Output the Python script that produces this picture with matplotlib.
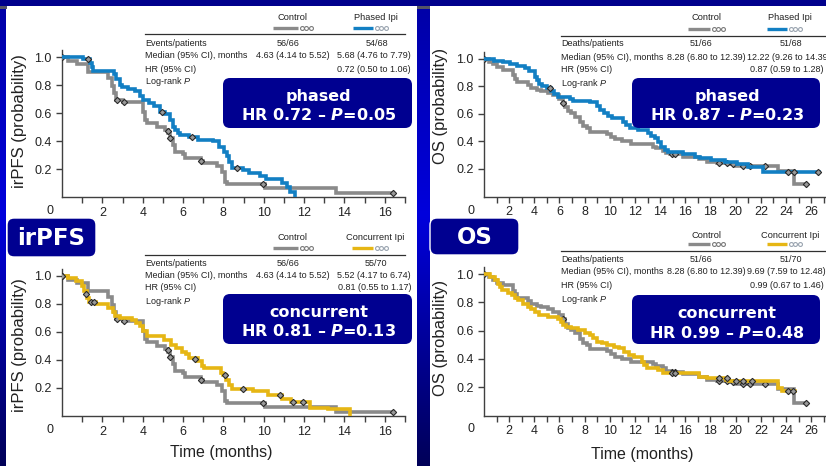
import numpy as np
import matplotlib
matplotlib.use("Agg")
import matplotlib.pyplot as plt
from matplotlib.patches import Rectangle, FancyBboxPatch
from matplotlib.lines import Line2D
from matplotlib.colors import to_rgb
from matplotlib import font_manager as fm
import matplotlib.transforms as mtrans

# ---------------- data ----------------
# irPFS, control (step times in months, survival after each step)
ctrl_pfs_t = [0, 0.3, 0.72, 1.3, 2.3, 2.5, 2.6, 2.7, 3.0, 4.0, 4.1, 4.2, 4.7, 5.1, 5.25, 5.35,
              5.5, 5.6, 6.0, 6.1, 6.9, 7.0, 7.7, 7.95, 8.1, 8.2, 10.05, 13.6]
ctrl_pfs_s = [1.0, 0.97, 0.95, 0.89, 0.85, 0.79, 0.74, 0.69, 0.68, 0.61, 0.55, 0.53, 0.50, 0.48, 0.46, 0.42,
              0.37, 0.32, 0.31, 0.28, 0.26, 0.24, 0.22, 0.18, 0.11, 0.095, 0.066, 0.026]
ctrl_pfs_end = 16.4
ctrl_pfs_cens_t = [0, 2.72, 3.05, 5.25, 5.35, 6.9, 9.98, 16.4]
ctrl_pfs_cens_s = [1.0, 0.69, 0.68, 0.47, 0.42, 0.26, 0.095, 0.026]

# irPFS, phased ipilimumab
phas_pfs_t = [0, 1.05, 1.4, 1.5, 1.55, 2.6, 2.7, 2.85, 2.95, 3.25, 3.6, 3.85, 4.0, 4.3, 4.55, 4.85,
              5.1, 5.35, 5.5, 5.6, 5.75, 5.85, 6.3, 6.75, 7.5, 7.8, 8.05, 8.2, 8.3, 8.45, 8.95,
              9.25, 9.8, 10.1, 10.9, 11.15, 11.3, 11.55]
phas_pfs_s = [1.0, 0.985, 0.957, 0.93, 0.90, 0.88, 0.84, 0.80, 0.785, 0.77, 0.755, 0.72, 0.69, 0.67, 0.65, 0.61,
              0.59, 0.55, 0.50, 0.48, 0.455, 0.44, 0.43, 0.41, 0.40, 0.36, 0.32, 0.29, 0.25, 0.21, 0.19,
              0.17, 0.15, 0.13, 0.10, 0.07, 0.035, 0.0]
phas_pfs_end = 11.55
phas_pfs_cens_t = [1.3, 4.95, 6.45, 8.65]
phas_pfs_cens_s = [0.985, 0.61, 0.43, 0.21]

# irPFS, concurrent ipilimumab
conc_pfs_t = [0, 0.3, 0.7, 0.97, 1.1, 1.25, 1.35, 1.7, 2.3, 2.55, 2.65, 2.85, 3.45, 3.65, 3.85, 4.0,
              4.2, 5.05, 5.4, 5.65, 5.95, 6.15, 6.3, 6.75, 6.95, 7.05, 7.9, 8.0, 8.15, 8.3, 8.45,
              9.45, 10.2, 10.9, 11.35, 12.3, 13.2, 14.25]
conc_pfs_s = [1.0, 0.983, 0.964, 0.93, 0.89, 0.846, 0.816, 0.80, 0.77, 0.74, 0.715, 0.70, 0.685, 0.665, 0.64, 0.605,
              0.57, 0.54, 0.51, 0.486, 0.46, 0.44, 0.415, 0.39, 0.36, 0.34, 0.307, 0.29, 0.26, 0.22, 0.195,
              0.176, 0.15, 0.123, 0.10, 0.056, 0.05, 0.0]
conc_pfs_end = 14.25
conc_pfs_cens_t = [0, 1.2, 1.45, 1.6, 6.6, 8.1, 8.95, 10.8, 11.45, 11.95]
conc_pfs_cens_s = [1.0, 0.875, 0.816, 0.816, 0.41, 0.29, 0.195, 0.15, 0.10, 0.10]

# OS, control
ctrl_os_t = [0, 0.4, 0.7, 1.0, 1.5, 2.3, 2.45, 2.6, 3.5, 3.75, 4.2, 4.55, 5.05, 5.5, 6.0, 6.3, 6.45,
             6.7, 6.95, 7.2, 7.6, 7.85, 8.15, 8.4, 9.8, 10.1, 10.4, 11.0, 11.7, 13.45, 13.7, 14.2,
             14.5, 14.8, 15.85, 17.05, 17.7, 18.55, 19.55, 20.0, 23.4, 24.6]
ctrl_os_s = [1.0, 0.978, 0.96, 0.94, 0.92, 0.88, 0.857, 0.833, 0.81, 0.79, 0.777, 0.768, 0.75, 0.735, 0.71, 0.68, 0.65,
             0.62, 0.605, 0.58, 0.54, 0.51, 0.495, 0.47, 0.453, 0.435, 0.415, 0.40, 0.38, 0.362, 0.35, 0.333,
             0.318, 0.306, 0.29, 0.272, 0.253, 0.246, 0.234, 0.224, 0.185, 0.09]
ctrl_os_end = 25.6
ctrl_os_cens_t = [0, 6.3, 14.95, 15.2, 18.7, 19.3, 19.75, 20.6, 21.15, 22.35, 25.6]
ctrl_os_cens_s = [1.0, 0.68, 0.306, 0.306, 0.246, 0.246, 0.234, 0.224, 0.224, 0.224, 0.09]

# OS, phased ipilimumab
phas_os_t = [0, 0.8, 1.5, 2.05, 2.6, 3.25, 3.6, 4.05, 4.2, 4.4, 4.6, 5.0, 5.35, 5.6, 5.9, 6.8, 7.05,
             8.4, 8.95, 9.2, 9.5, 9.85, 10.15, 11.05, 11.3, 11.6, 12.25, 13.05, 13.3, 13.6, 13.85,
             14.1, 14.4, 14.65, 15.85, 16.75, 17.15, 18.05, 19.15, 20.1, 21.0, 22.2]
phas_os_s = [1.0, 0.985, 0.975, 0.96, 0.95, 0.935, 0.913, 0.87, 0.845, 0.816, 0.80, 0.785, 0.768, 0.743, 0.725, 0.712, 0.695,
             0.685, 0.657, 0.628, 0.604, 0.584, 0.567, 0.543, 0.519, 0.495, 0.483, 0.458, 0.439, 0.422, 0.397,
             0.36, 0.34, 0.325, 0.31, 0.29, 0.277, 0.265, 0.248, 0.234, 0.217, 0.18]
phas_os_end = 26.6
phas_os_cens_t = [5.25, 24.15, 24.6, 26.55]
phas_os_cens_s = [0.785, 0.18, 0.18, 0.18]

# OS, concurrent ipilimumab
conc_os_t = [0, 0.45, 0.85, 1.1, 1.3, 1.4, 1.9, 2.2, 2.45, 2.7, 3.1, 3.5, 3.75, 4.05, 4.4, 5.05, 5.85,
             6.15, 6.3, 6.55, 6.95, 7.5, 8.0, 8.4, 8.7, 8.95, 9.35, 9.75, 10.3, 10.7, 11.1, 11.5,
             11.9, 12.55, 12.7, 12.95, 13.85, 14.25, 17.05, 17.7, 19.2, 19.45, 23.4, 23.65]
conc_os_s = [1.0, 0.98, 0.96, 0.93, 0.91, 0.887, 0.868, 0.85, 0.828, 0.816, 0.79, 0.77, 0.75, 0.734, 0.71, 0.694, 0.68,
             0.663, 0.64, 0.628, 0.616, 0.605, 0.586, 0.569, 0.546, 0.522, 0.51, 0.50, 0.487, 0.475, 0.452, 0.428,
             0.416, 0.381, 0.358, 0.334, 0.322, 0.299, 0.275, 0.264, 0.252, 0.245, 0.193, 0.17]
conc_os_end = 24.7
conc_os_cens_t = [14.95, 15.2, 18.7, 19.3, 20.0, 20.6, 21.3, 24.15, 24.55]
conc_os_cens_s = [0.299, 0.299, 0.264, 0.264, 0.245, 0.245, 0.245, 0.17, 0.17]

# table texts
pfs_rows = ["Events/patients", "Median (95% CI), months", "HR (95% CI)", "Log-rank "]
os_rows = ["Deaths/patients", "Median (95% CI), months", "HR (95% CI)", "Log-rank "]
ctrl_pfs_vals = ["56/66", "4.63 (4.14 to 5.52)"]
phas_pfs_vals = ["54/68", "5.68 (4.76 to 7.79)", "0.72 (0.50 to 1.06)"]
conc_pfs_vals = ["55/70", "5.52 (4.17 to 6.74)", "0.81 (0.55 to 1.17)"]
ctrl_os_vals = ["51/66", "8.28 (6.80 to 12.39)"]
phas_os_vals = ["51/68", "12.22 (9.26 to 14.39)", "0.87 (0.59 to 1.28)"]
conc_os_vals = ["51/70", "9.69 (7.59 to 12.48)", "0.99 (0.67 to 1.46)"]

box_titles = ["phased", "phased", "concurrent", "concurrent"]
box_stats = [("0.72", "0.05"), ("0.87", "0.23"), ("0.81", "0.13"), ("0.99", "0.48")]

# ---------------- style ----------------
_names = {f.name for f in fm.fontManager.ttflist}
if 'Liberation Sans Narrow' in _names:
    NARROW = ['Liberation Sans Narrow', 'DejaVu Sans']
    FS_ROW, FS_HDR = 7.8, 8.0
    IT_FONT = 'Liberation Sans Narrow:italic'
else:
    NARROW = ['Liberation Sans', 'DejaVu Sans']
    FS_ROW, FS_HDR = 6.5, 6.7
    IT_FONT = 'Liberation Sans:italic'

plt.rcParams['font.family'] = ['Liberation Sans', 'DejaVu Sans']
plt.rcParams['mathtext.fontset'] = 'custom'
plt.rcParams['mathtext.bfit'] = 'DejaVu Sans:italic:bold'
plt.rcParams['mathtext.it'] = IT_FONT
plt.rcParams['mathtext.rm'] = 'DejaVu Sans'

W, H, DPI = 826, 466, 100
NAVY = '#00008c'
BOXC = '#000090'
GRAY = '#8a8a8a'
BLUE = '#127fc3'
YELL = '#e6b614'
INK = '#222222'

fig = plt.figure(figsize=(W / DPI, H / DPI), dpi=DPI, facecolor=NAVY)


def rect_px(x0, y0, x1, y1):
    return [x0 / W, 1 - y1 / H, (x1 - x0) / W, (y1 - y0) / H]


# background layer in pixel coordinates
bg = fig.add_axes([0, 0, 1, 1], zorder=0)
bg.set_axis_off()
bg.add_patch(Rectangle((6, 6), 411, H - 6, facecolor='white', edgecolor='none'))
bg.add_patch(Rectangle((430, 6), W - 430, H - 6, facecolor='white', edgecolor='none'))
bg.add_patch(Rectangle((0, 6), 7, 3, facecolor='#555566', edgecolor='none'))
bg.add_patch(Rectangle((417, 6), 13, 3, facecolor='#555566', edgecolor='none'))


def grad_img(n=300):
    stops = [(0.0, '#0000a8'), (0.45, '#0000dc'), (1.0, '#000058')]
    pos = np.linspace(0, 1, n)
    cols = np.zeros((n, 1, 3))
    for c in range(3):
        cols[:, 0, c] = np.interp(pos, [s[0] for s in stops], [to_rgb(s[1])[c] for s in stops])
    return cols


img = grad_img()
bg.imshow(img, extent=[0, 6, H, 9], aspect='auto', interpolation='bilinear')
bg.imshow(img, extent=[417, 430, H, 9], aspect='auto', interpolation='bilinear')
bg.set_xlim(0, W)
bg.set_ylim(H, 0)


def km(ax, t, s, end, color, ct, cs, z):
    tt = list(t) + [end]
    ss = list(s) + [s[-1]]
    ax.step(tt, ss, where='post', color=color, lw=2.6, solid_joinstyle='miter', zorder=z)
    ax.plot(ct, cs, linestyle='none', marker='D', ms=3.2, mfc='#9a9a9a', mec='#2a2a2a', mew=0.8, zorder=z + 1)


def setup(px, xmax, nt):
    ax = fig.add_axes(rect_px(*px), facecolor='none', zorder=5)
    ax.set_xlim(0, xmax)
    ax.set_ylim(0, 1.05)
    for sp in ['top', 'right']:
        ax.spines[sp].set_visible(False)
    for sp in ['left', 'bottom']:
        ax.spines[sp].set_color('#404040')
        ax.spines[sp].set_linewidth(1.0)
    ticks = np.arange(1, nt + 1)
    ax.set_xticks(ticks)
    ax.set_xticklabels([str(i) if i % 2 == 0 else '' for i in ticks])
    ax.set_yticks([0.2, 0.4, 0.6, 0.8, 1.0])
    ax.set_yticklabels(['0.2', '0.4', '0.6', '0.8', '1.0'])
    ax.tick_params(axis='both', direction='out', length=4, width=1, color='#404040',
                   labelsize=9, labelcolor=INK)
    ax.tick_params(axis='x', pad=3)
    ax.tick_params(axis='y', pad=3.5)
    tr = mtrans.offset_copy(ax.transData, fig=fig, x=-12.5, y=-14, units='dots')
    ax.text(0, 0, '0', transform=tr, ha='center', va='center', fontsize=9, color=INK)
    return ax


ax_tl = setup((62, 50, 405, 197), 17.0, 17)
ax_tr = setup((484, 52, 825, 196.5), 27.1, 27)
ax_bl = setup((62, 269, 405, 416), 17.0, 17)
ax_br = setup((484, 267, 825, 415.5), 27.1, 27)

km(ax_tl, ctrl_pfs_t, ctrl_pfs_s, ctrl_pfs_end, GRAY, ctrl_pfs_cens_t, ctrl_pfs_cens_s, 3)
km(ax_tl, phas_pfs_t, phas_pfs_s, phas_pfs_end, BLUE, phas_pfs_cens_t, phas_pfs_cens_s, 5)
km(ax_bl, ctrl_pfs_t, ctrl_pfs_s, ctrl_pfs_end, GRAY, ctrl_pfs_cens_t, ctrl_pfs_cens_s, 3)
km(ax_bl, conc_pfs_t, conc_pfs_s, conc_pfs_end, YELL, conc_pfs_cens_t, conc_pfs_cens_s, 5)
km(ax_tr, ctrl_os_t, ctrl_os_s, ctrl_os_end, GRAY, ctrl_os_cens_t, ctrl_os_cens_s, 3)
km(ax_tr, phas_os_t, phas_os_s, phas_os_end, BLUE, phas_os_cens_t, phas_os_cens_s, 5)
km(ax_br, ctrl_os_t, ctrl_os_s, ctrl_os_end, GRAY, ctrl_os_cens_t, ctrl_os_cens_s, 3)
km(ax_br, conc_os_t, conc_os_s, conc_os_end, YELL, conc_os_cens_t, conc_os_cens_s, 5)

# overlay layer in pixel coordinates
ov = fig.add_axes([0, 0, 1, 1], zorder=10, facecolor='none')
ov.set_xlim(0, W)
ov.set_ylim(H, 0)
ov.set_axis_off()


def legend_glyph(x0, x1, y, color, dot_edge):
    ov.add_line(Line2D([x0, x1], [y, y], color=color, lw=2.4, solid_capstyle='butt'))
    xs = [x1 + 3.5 + 4.5 * k for k in range(3)]
    ov.plot(xs, [y] * 3, linestyle='none', marker='o', ms=2.8, mfc='white', mec=dot_edge, mew=0.8)


def txt(x, y, s, ha='left', fs=None, clip=False):
    t = ov.text(x, y, s, ha=ha, va='center', fontsize=fs or FS_ROW, family=NARROW, color=INK)
    t.set_clip_on(clip)
    return t


def table(x_row, y_rows, rows, ctrl_x, hdr_y, ctrl_vals, exp_name, exp_x, exp_vals, exp_color,
          rule_y, rule_x1, med_left=None, med_right=None, hr_right=None, glyph_y=None,
          ctrl_line=(0, 0), exp_line=(0, 0)):
    txt(ctrl_x, hdr_y, "Control", ha='center', fs=FS_HDR)
    txt(exp_x, hdr_y, exp_name, ha='center', fs=FS_HDR)
    legend_glyph(ctrl_line[0], ctrl_line[1], glyph_y, GRAY, '#7a7a7a')
    legend_glyph(exp_line[0], exp_line[1], glyph_y, exp_color, '#9aa4b0')
    ov.add_line(Line2D([x_row, rule_x1], [rule_y, rule_y], color='#303030', lw=0.9))
    for i, r in enumerate(rows):
        lbl = r + r"$\mathit{P}$" if i == 3 else r
        txt(x_row, y_rows[i], lbl)
    txt(ctrl_x - 5, y_rows[0], ctrl_vals[0], ha='center')
    txt(ctrl_x, y_rows[1], ctrl_vals[1], ha='center')
    txt(exp_x + 1, y_rows[0], exp_vals[0], ha='center')
    if med_left is not None:
        txt(med_left, y_rows[1], exp_vals[1], ha='left', clip=True)
    else:
        txt(med_right, y_rows[1], exp_vals[1], ha='right')
    txt(hr_right, y_rows[2], exp_vals[2], ha='right')


table(145, [43, 56, 69, 81], pfs_rows, 293, 17, ctrl_pfs_vals, "Phased Ipi", 376, phas_pfs_vals, BLUE,
      34, 405, med_right=411, hr_right=411, glyph_y=28, ctrl_line=(273, 298), exp_line=(353, 373))
table(561, [44, 57, 70, 83], os_rows, 706, 18, ctrl_os_vals, "Phased Ipi", 790, phas_os_vals, BLUE,
      36, 826, med_left=747, hr_right=824, glyph_y=29, ctrl_line=(688, 710), exp_line=(767, 787))
table(145, [263, 276, 288, 301], pfs_rows, 293, 238, ctrl_pfs_vals, "Concurrent Ipi", 375, conc_pfs_vals, YELL,
      255, 405, med_right=411, hr_right=411, glyph_y=248, ctrl_line=(273, 298), exp_line=(352, 373))
table(561, [259, 272, 285, 299], os_rows, 706, 235, ctrl_os_vals, "Concurrent Ipi", 790, conc_os_vals, YELL,
      251, 826, med_left=747, hr_right=824, glyph_y=244, ctrl_line=(688, 710), exp_line=(767, 787))

# highlighted result boxes
box_rects = [(223, 78, 412, 128), (632, 78, 820, 128), (223, 294, 412, 344), (632, 295, 820, 344)]
for (x0, y0, x1, y1), title, (hr, p) in zip(box_rects, box_titles, box_stats):
    ov.add_patch(FancyBboxPatch((x0, y0), x1 - x0, y1 - y0, boxstyle='round,pad=0,rounding_size=7',
                                facecolor=BOXC, edgecolor='none'))
    cx = (x0 + x1) / 2 + 1
    ov.text(cx, y0 + 18.5, title, ha='center', va='center', fontsize=11.5, family='DejaVu Sans',
            weight='bold', color='white')
    ov.text(cx, y0 + 37.5, "HR " + hr + " \u2013 " + r"$\mathbfit{P}$" + "=" + p, ha='center', va='center',
            fontsize=11.5, family='DejaVu Sans', weight='bold', color='white')

# section labels
for (x0, y0, x1, y1), lab in zip([(7, 218, 96, 257), (430, 218, 519, 255)], ["irPFS", "OS"]):
    ov.add_patch(FancyBboxPatch((x0, y0), x1 - x0, y1 - y0, boxstyle='round,pad=0,rounding_size=7',
                                facecolor=BOXC, edgecolor='white', lw=1.0))
    ov.text((x0 + x1) / 2, (y0 + y1) / 2 + 1, lab, ha='center', va='center', fontsize=16.5,
            family='DejaVu Sans', weight='bold', color='white')

# axis titles
for (x, y), lab in zip([(20, 121), (440, 106), (20, 345), (440, 338)],
                       ["irPFS (probability)", "OS (probability)", "irPFS (probability)", "OS (probability)"]):
    ov.text(x, y, lab, rotation=90, ha='center', va='center', fontsize=12, color=INK)
for (x, y) in [(221, 453), (642, 455)]:
    ov.text(x, y, "Time (months)", ha='center', va='center', fontsize=11.5, color=INK)

fig.savefig("out.png", dpi=DPI, facecolor=fig.get_facecolor())
